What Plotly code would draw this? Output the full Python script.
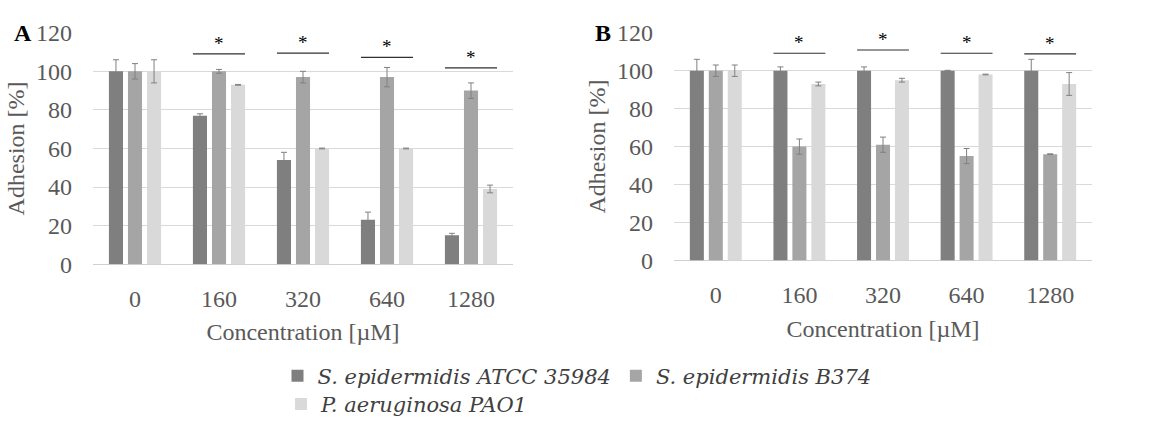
import plotly.graph_objects as go

categories = ["0", "160", "320", "640", "1280"]
series_names = ["S. epidermidis ATCC 35984", "S. epidermidis B374", "P. aeruginosa PAO1"]
colors = ["#7f7f7f", "#a5a5a5", "#d9d9d9"]

# Panel A
a_atcc = [100, 77, 54, 23, 15]
a_atcc_err = [6, 1, 4, 4, 1]
a_b374 = [100, 100, 97, 97, 90]
a_b374_err = [4, 1, 3, 5, 4]
a_pao1 = [100, 93, 60, 60, 39]
a_pao1_err = [6, 0.2, 0.2, 0.2, 2]
a_sig = [None, 109, 109.4, 107.2, 101.8]

# Panel B
b_atcc = [100, 100, 100, 100, 100]
b_atcc_err = [6, 2, 2, 0.2, 6]
b_b374 = [100, 60, 61, 55, 56]
b_b374_err = [3, 4, 4, 4, 0.2]
b_pao1 = [100, 93, 95, 98, 93]
b_pao1_err = [3, 1, 1, 0.2, 6]
b_sig = [None, 109.2, 110.9, 109.2, 108.9]

y_ticks = [0, 20, 40, 60, 80, 100, 120]

serif = "Liberation Serif"
tick_color = "#595959"
fs = 24

fig = go.Figure()

panels = [
    ("x", "y", [a_atcc, a_b374, a_pao1], [a_atcc_err, a_b374_err, a_pao1_err], a_sig, True),
    ("x2", "y2", [b_atcc, b_b374, b_pao1], [b_atcc_err, b_b374_err, b_pao1_err], b_sig, False),
]

for xa, ya, vals, errs, sig, show in panels:
    for i in range(3):
        fig.add_trace(go.Bar(
            x=categories, y=vals[i], name=series_names[i],
            marker=dict(color=colors[i], line=dict(width=0)),
            error_y=dict(type="data", array=errs[i], color="#808080", thickness=1, width=3),
            xaxis=xa, yaxis=ya, showlegend=show,
            legend="legend" if i < 2 else "legend2",
            offsetgroup=str(i),
        ))
    for j, s in enumerate(sig):
        if s is None:
            continue
        fig.add_shape(type="line", xref=xa, yref=ya, x0=j - 0.31, x1=j + 0.31, y0=s, y1=s,
                      line=dict(color="#303030", width=1.2))
        fig.add_annotation(xref=xa, yref=ya, x=j, y=s, text="*", showarrow=False,
                           yanchor="bottom", yshift=-2,
                           font=dict(family=serif, size=19, color="#000000"))

axis_common = dict(showgrid=True, gridcolor="#d9d9d9", gridwidth=1)

legend_font = dict(family="DejaVu Serif", size=21, color="#404040", style="italic")

fig.update_layout(
    width=1154, height=439,
    margin=dict(l=0, r=0, t=0, b=0),
    paper_bgcolor="white", plot_bgcolor="white",
    barmode="group", bargap=0.32, bargroupgap=0.26,
    font=dict(family=serif, color=tick_color),
    xaxis=dict(domain=[93/1154, 513/1154], anchor="y", type="category",
               tickfont=dict(size=fs, color=tick_color), showgrid=False, showline=False,
               ticks="", ticklabelstandoff=18,
               title=dict(text="Concentration [µM]", font=dict(size=fs, color=tick_color), standoff=12)),
    yaxis=dict(domain=[1 - 267/439, 1 - 21/439], anchor="x", range=[0, 120], tickvals=y_ticks,
               tickfont=dict(size=fs, color=tick_color), ticklabelstandoff=20,
               zeroline=True, zerolinecolor="#d0d0d0", zerolinewidth=1,
               title=dict(text="Adhesion [%]", font=dict(size=fs, color=tick_color), standoff=4),
               **axis_common),
    xaxis2=dict(domain=[674/1154, 1092/1154], anchor="y2", type="category",
                tickfont=dict(size=fs, color=tick_color), showgrid=False, showline=False,
                ticks="", ticklabelstandoff=18,
                title=dict(text="Concentration [µM]", font=dict(size=fs, color=tick_color), standoff=12)),
    yaxis2=dict(domain=[1 - 263/439, 1 - 21/439], anchor="x2", range=[0, 120], tickvals=y_ticks,
                tickfont=dict(size=fs, color=tick_color), ticklabelstandoff=20,
                zeroline=True, zerolinecolor="#d0d0d0", zerolinewidth=1,
                title=dict(text="Adhesion [%]", font=dict(size=fs, color=tick_color), standoff=4),
                **axis_common),
    legend=dict(orientation="h", x=0.5, xanchor="center", y=1 - 386/439, yanchor="middle",
                font=legend_font, itemwidth=30, tracegroupgap=0, bgcolor="rgba(0,0,0,0)"),
    legend2=dict(orientation="h", x=281/1154, xanchor="left", y=1 - 416/439, yanchor="middle",
                 font=legend_font, itemwidth=30, bgcolor="rgba(0,0,0,0)"),
    annotations=list(fig.layout.annotations) + [
        dict(xref="paper", yref="paper", x=12/1154, y=1 - 21/439, text="<b>A</b>", showarrow=False,
             xanchor="left", yanchor="middle", font=dict(family=serif, size=24, color="#000000")),
        dict(xref="paper", yref="paper", x=593/1154, y=1 - 21/439, text="<b>B</b>", showarrow=False,
             xanchor="left", yanchor="middle", font=dict(family=serif, size=24, color="#000000")),
    ],
)

fig.write_html("out.html")
